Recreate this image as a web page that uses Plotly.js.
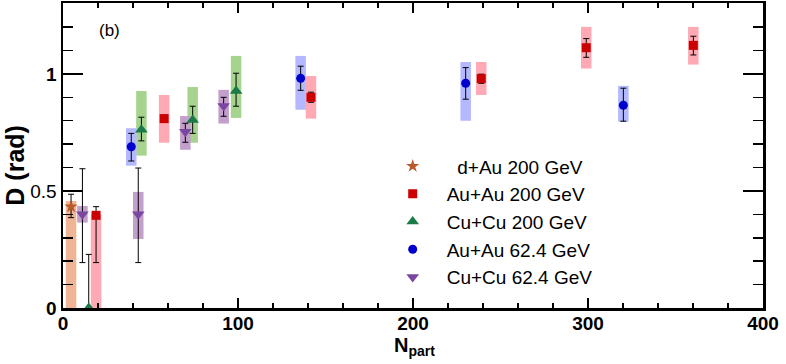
<!DOCTYPE html>
<html>
<head>
<meta charset="utf-8">
<script src="https://cdn.plot.ly/plotly-3.0.1.min.js"></script>
<style>
  html, body { margin: 0; padding: 0; background: #fff; }
  #chart { width: 786px; height: 364px; }
</style>
</head>
<body>
<div id="chart"></div>
<script>
// D (rad) vs N_part.
// Each series: N_part, D, stat error (+/-), systematic box (low/high).

const dAuX = [4.6];
const dAuY = [0.433];
const dAuErrUp = [0.053];
const dAuErrDn = [0.047];
const dAuSysLo = [0.0];
const dAuSysHi = [0.457];

const auAu200X = [18.9, 57.8, 141.7, 239.0, 299.0, 360.2];
const auAu200Y = [0.396, 0.809, 0.900, 0.980, 1.112, 1.122];
const auAu200ErrUp = [0.037, 0.015, 0.022, 0.019, 0.039, 0.039];
const auAu200ErrDn = [0.202, 0.015, 0.021, 0.020, 0.041, 0.041];
const auAu200SysLo = [0.0, 0.706, 0.809, 0.910, 1.023, 1.040];
const auAu200SysHi = [0.400, 0.910, 0.991, 1.051, 1.201, 1.201];

const cuCu200X = [14.7, 44.8, 74.1, 98.9];
const cuCu200Y = [0.0, 0.761, 0.803, 0.927];
const cuCu200ErrUp = [0.229, 0.054, 0.059, 0.076];
const cuCu200ErrDn = [0.0, 0.047, 0.057, 0.065];
const cuCu200SysLo = [0.0, 0.651, 0.706, 0.812];
const cuCu200SysHi = [0.0, 0.927, 0.944, 1.077];

const auAu62X = [39.0, 135.8, 230.1, 320.2];
const auAu62Y = [0.689, 0.981, 0.960, 0.866];
const auAu62ErrUp = [0.057, 0.052, 0.067, 0.073];
const auAu62ErrDn = [0.061, 0.051, 0.068, 0.068];
const auAu62SysLo = [0.608, 0.847, 0.800, 0.796];
const auAu62SysHi = [0.768, 1.077, 1.051, 0.949];

const cuCu62X = [11.1, 43.0, 69.9, 91.8];
const cuCu62Y = [0.400, 0.400, 0.753, 0.863];
const cuCu62ErrUp = [0.195, 0.198, 0.036, 0.037];
const cuCu62ErrDn = [0.206, 0.206, 0.045, 0.044];
const cuCu62SysLo = [0.365, 0.295, 0.676, 0.788];
const cuCu62SysHi = [0.436, 0.496, 0.820, 0.932];

const xTickVals = [0, 100, 200, 300, 400];
const xTickText = ["0", "100", "200", "300", "400"];
const yTickVals = [0, 0.5, 1];
const yTickText = ["<b>0</b>", "0.5", "<b>1</b>"];

const FONT = "Liberation Sans, Arial, Helvetica, sans-serif";
const BOX_W = 6; // N_part units

const series = [
  { name: "\u00a0\u00a0d+Au 200 GeV", x: dAuX, y: dAuY, up: dAuErrUp, dn: dAuErrDn, lo: dAuSysLo, hi: dAuSysHi,
    symbol: "star", size: 10, color: "#b85a2a", box: "#f0b496" },
  { name: "Au+Au 200 GeV", x: auAu200X, y: auAu200Y, up: auAu200ErrUp, dn: auAu200ErrDn, lo: auAu200SysLo, hi: auAu200SysHi,
    symbol: "square", size: 9, color: "#cc0000", box: "#ffa9b4" },
  { name: "Cu+Cu 200 GeV", x: cuCu200X, y: cuCu200Y, up: cuCu200ErrUp, dn: cuCu200ErrDn, lo: cuCu200SysLo, hi: cuCu200SysHi,
    symbol: "triangle-up", size: 11, color: "#1a7a48", box: "#a6d48e" },
  { name: "Au+Au 62.4 GeV", x: auAu62X, y: auAu62Y, up: auAu62ErrUp, dn: auAu62ErrDn, lo: auAu62SysLo, hi: auAu62SysHi,
    symbol: "circle", size: 9, color: "#0000cc", box: "#b3b8ff" },
  { name: "Cu+Cu 62.4 GeV", x: cuCu62X, y: cuCu62Y, up: cuCu62ErrUp, dn: cuCu62ErrDn, lo: cuCu62SysLo, hi: cuCu62SysHi,
    symbol: "triangle-down", size: 11, color: "#7a47a0", box: "#c39fcb" }
];

// systematic boxes as bars with a base
const boxTraces = series.map(s => ({
  type: "bar",
  x: s.x,
  base: s.lo,
  y: s.hi.map((h, i) => h - s.lo[i]),
  width: s.x.map(() => BOX_W),
  marker: { color: s.box, line: { width: 0 } },
  showlegend: false,
  hoverinfo: "skip"
}));

const pointTraces = series.map((s, i) => ({
  type: "scatter",
  mode: "markers",
  name: s.name,
  legendgroup: "g" + i,
  x: s.x,
  y: s.y,
  cliponaxis: false,
  marker: { symbol: s.symbol, size: s.size, color: s.color, line: { width: 0 } },
  error_y: {
    type: "data", symmetric: false, array: s.up, arrayminus: s.dn,
    color: "#000", thickness: 1, width: 3
  }
}));

const layout = {
  width: 786,
  height: 364,
  margin: { l: 63, r: 23, t: 3, b: 56 },
  paper_bgcolor: "#fff",
  plot_bgcolor: "#fff",
  barmode: "overlay",
  font: { family: FONT, color: "#000" },
  showlegend: true,
  legend: {
    x: 0.451, y: 0.527, xanchor: "left", yanchor: "top",
    bgcolor: "rgba(0,0,0,0)",
    font: { size: 19, family: FONT },
    traceorder: "grouped",
    tracegroupgap: 0,
    itemwidth: 58
  },
  xaxis: {
    range: [0, 400],
    tickmode: "array", tickvals: xTickVals, ticktext: xTickText,
    ticks: "inside", ticklen: 10, tickwidth: 1.5, tickcolor: "#000",
    minor: { dtick: 20, ticks: "inside", ticklen: 5, tickwidth: 1.5, tickcolor: "#000" },
    showline: true, linecolor: "#000", linewidth: 2.5, mirror: "allticks",
    showgrid: false, zeroline: false,
    ticklabelstandoff: -3,
    tickfont: { size: 19, family: FONT, weight: "bold" }
  },
  yaxis: {
    range: [0, 1.303],
    tickmode: "array", tickvals: yTickVals, ticktext: yTickText,
    ticks: "inside", ticklen: 20, tickwidth: 1.5, tickcolor: "#000",
    minor: { dtick: 0.1, ticks: "inside", ticklen: 10, tickwidth: 1.5, tickcolor: "#000" },
    showline: true, linecolor: "#000", linewidth: 2.5, mirror: "allticks",
    showgrid: false, zeroline: false,
    tickfont: { size: 19, family: FONT }
  },
  annotations: [
    { text: "(b)", xref: "paper", yref: "paper", x: 0.067, y: 0.911,
      xanchor: "center", yanchor: "middle",
      showarrow: false, font: { size: 17, family: FONT } },
    { text: "<b>D (rad)</b>", xref: "paper", yref: "paper", x: -0.069, y: 0.469,
      xanchor: "center", yanchor: "middle",
      textangle: -90, showarrow: false, font: { size: 25, family: FONT } },
    { text: "<b>N<sub>part</sub></b>", xref: "paper", yref: "paper", x: 0.47, y: -0.08,
      xanchor: "left", yanchor: "top", showarrow: false, font: { size: 20, family: FONT } }
  ]
};

Plotly.newPlot("chart", boxTraces.concat(pointTraces), layout, { displayModeBar: false, staticPlot: true });
</script>
</body>
</html>
